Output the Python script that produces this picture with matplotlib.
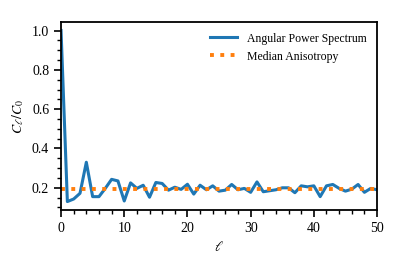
import matplotlib
matplotlib.use("Agg")
import matplotlib.pyplot as plt
from matplotlib.ticker import MultipleLocator
import numpy as np

plt.rcParams['font.family'] = ['Liberation Serif', 'DejaVu Serif']
plt.rcParams['mathtext.fontset'] = 'stix'

ell = list(range(0, 51))
cl_ratio = [1.0, 0.13, 0.143, 0.172, 0.33, 0.155, 0.155, 0.197, 0.243, 0.235,
            0.133, 0.225, 0.197, 0.213, 0.152, 0.227, 0.222, 0.188, 0.203, 0.192,
            0.218, 0.168, 0.213, 0.19, 0.21, 0.183, 0.188, 0.217, 0.19, 0.197,
            0.177, 0.23, 0.18, 0.185, 0.19, 0.2, 0.2, 0.175, 0.21, 0.205,
            0.21, 0.155, 0.21, 0.217, 0.197, 0.183, 0.193, 0.217, 0.177, 0.197,
            0.19]
median_aniso = 0.195

fig = plt.figure(figsize=(3.99, 2.68), dpi=100)
ax = fig.add_axes([0.153, 0.216, 0.792, 0.702])

ax.plot(ell, cl_ratio, color='#1f77b4', lw=2.2, label='Angular Power Spectrum')
ax.axhline(median_aniso, color='#ff7f0e', lw=2.8, ls=':', label='Median Anisotropy')

ax.set_xlim(0, 50)
ax.xaxis.set_major_locator(MultipleLocator(10))
ax.xaxis.set_minor_locator(MultipleLocator(2))
ax.yaxis.set_major_locator(MultipleLocator(0.2))
ax.yaxis.set_minor_locator(MultipleLocator(0.05))
ax.tick_params(which='major', length=5, width=1.2, labelsize=10, direction='out')
ax.tick_params(which='minor', length=3, width=1.0, direction='out')
for s in ax.spines.values():
    s.set_linewidth(1.3)

ax.set_xlabel(r'$\ell$', fontsize=10)
ax.set_ylabel(r'$C_\ell/C_0$', fontsize=10)
ax.legend(loc='upper right', frameon=False, fontsize=8.5, handlelength=2.3)

fig.savefig('out.png', dpi=100)
